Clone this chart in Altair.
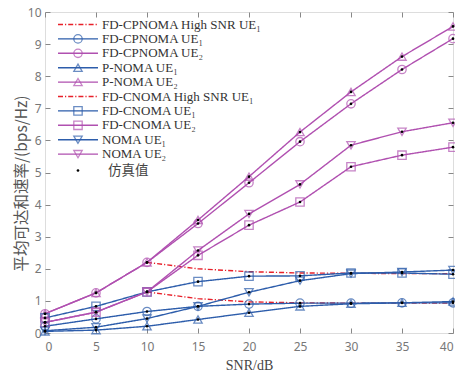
import altair as alt
import pandas as pd

snr = [0, 5, 10, 15, 20, 25, 30, 35, 40]
snr_high = [10, 15, 20, 25, 30, 35, 40]

fdcp_high_ue1 = [1.28, 1.07, 0.97, 0.94, 0.93, 0.93, 0.93]
fdcp_ue1 = [0.21, 0.44, 0.67, 0.83, 0.90, 0.93, 0.93, 0.94, 0.94]
fdcp_ue2 = [0.60, 1.25, 2.20, 3.41, 4.68, 5.96, 7.14, 8.21, 9.17]
pnoma_ue1 = [0.05, 0.09, 0.21, 0.42, 0.63, 0.83, 0.91, 0.94, 0.98]
pnoma_ue2 = [0.60, 1.25, 2.20, 3.52, 4.87, 6.26, 7.51, 8.61, 9.55]
fdc_high_ue1 = [2.20, 2.00, 1.91, 1.87, 1.86, 1.85, 1.85]
fdc_ue1 = [0.47, 0.83, 1.28, 1.60, 1.77, 1.78, 1.87, 1.87, 1.83]
fdc_ue2 = [0.33, 0.65, 1.28, 2.42, 3.36, 4.08, 5.18, 5.54, 5.79]
noma_ue1 = [0.07, 0.18, 0.45, 0.83, 1.27, 1.63, 1.85, 1.90, 1.96]
noma_ue2 = [0.33, 0.65, 1.28, 2.57, 3.71, 4.63, 5.85, 6.27, 6.55]

names = ["FD-CPNOMA High SNR UE₁", "FD-CPNOMA UE₁", "FD-CPNOMA UE₂",
         "P-NOMA UE₁", "P-NOMA UE₂", "FD-CNOMA High SNR UE₁",
         "FD-CNOMA UE₁", "FD-CNOMA UE₂", "NOMA UE₁", "NOMA UE₂"]
sim_label = "仿真值"

BLUE = "#2D5DAB"
MAG = "#B050B0"
RED = "#E8202A"
colors = [RED, BLUE, MAG, BLUE, MAG, RED, BLUE, MAG, BLUE, MAG]
shapes = ["circle", "circle", "circle", "triangle-up", "triangle-up", "circle",
          "square", "square", "triangle-down", "triangle-down"]
dashes = [[5, 2, 1.2, 2], [1, 0], [1, 0], [1, 0], [1, 0], [5, 2, 1.2, 2],
          [1, 0], [1, 0], [1, 0], [1, 0]]
has_marker = [False, True, True, True, True, False, True, True, True, True]

series_vals = [fdcp_high_ue1, fdcp_ue1, fdcp_ue2, pnoma_ue1, pnoma_ue2,
               fdc_high_ue1, fdc_ue1, fdc_ue2, noma_ue1, noma_ue2]

rows = []
for i, (n, vals) in enumerate(zip(names, series_vals)):
    xs = snr_high if len(vals) == len(snr_high) else snr
    for x, y in zip(xs, vals):
        rows.append({"series": n, "snr": x, "rate": y, "marker": has_marker[i]})
df = pd.DataFrame(rows)
mk = df[df["marker"]]

leg_rows = []
for i, n in enumerate(names):
    leg_rows.append({"series": n, "idx": i, "marker": has_marker[i]})
leg = pd.DataFrame(leg_rows)
sim_df = pd.DataFrame([{"label": sim_label, "idx": len(names)}])

color_scale = alt.Scale(domain=names, range=colors)
shape_scale = alt.Scale(domain=names, range=shapes)
dash_scale = alt.Scale(domain=names, range=dashes)

xs_ = alt.Scale(domain=[0, 40], nice=False)
ys_ = alt.Scale(domain=[0, 10], nice=False)

AX_GRAY = "#777777"
common_axis = dict(grid=False, domain=False, tickSize=5, offset=-5,
                   tickColor="#888888", labelColor=AX_GRAY, labelFont="Noto Sans",
                   labelFontSize=12)
frame_axis = {k: v for k, v in common_axis.items()
              if k not in ("labelColor", "labelFont", "labelFontSize")}

lines = alt.Chart(df).mark_line(strokeWidth=1.4).encode(
    x=alt.X("snr:Q", scale=xs_, axis=alt.Axis(values=list(range(0, 41, 5)),
            title="SNR/dB", titleFont="Liberation Serif", titleFontSize=14,
            titleFontWeight="normal", titleColor="#444444", titlePadding=6,
            labelPadding=8, orient="bottom", **common_axis)),
    y=alt.Y("rate:Q", scale=ys_, axis=alt.Axis(values=list(range(0, 11)),
            title="平均可达和速率/(bps/Hz)", titleFont="Noto Sans CJK SC",
            titleFontSize=15.5, titleFontWeight="normal", titleColor="#555555",
            titleAngle=270, titleX=-29, titleY=171, titleAlign="center",
            titleBaseline="middle", labelPadding=4, orient="left", **common_axis)),
    color=alt.Color("series:N", scale=color_scale, legend=None),
    strokeDash=alt.StrokeDash("series:N", scale=dash_scale, legend=None),
    detail="series:N",
)

points = alt.Chart(mk).mark_point(filled=False, size=70, strokeWidth=1.3).encode(
    x=alt.X("snr:Q", scale=xs_, axis=None),
    y=alt.Y("rate:Q", scale=ys_, axis=None),
    color=alt.Color("series:N", scale=color_scale, legend=None),
    shape=alt.Shape("series:N", scale=shape_scale, legend=None),
)

dots = alt.Chart(mk).mark_circle(size=7, color="black", opacity=1).encode(
    x=alt.X("snr:Q", scale=xs_, axis=alt.Axis(orient="top", labels=False, title=None,
            values=list(range(0, 41, 5)), **frame_axis)),
    y=alt.Y("rate:Q", scale=ys_, axis=alt.Axis(orient="right", labels=False, title=None,
            values=list(range(0, 11)), **frame_axis)),
)

ROW0 = 12.5
STEP = 14.4

leg_base = alt.Chart(leg).transform_calculate(ypx=f"{ROW0} + datum.idx * {STEP}")
leg_lines = leg_base.mark_rule(strokeWidth=1.4).encode(
    x=alt.value(13), x2=alt.value(53),
    y=alt.Y("ypx:Q", scale=None),
    color=alt.Color("series:N", scale=color_scale, legend=None),
    strokeDash=alt.StrokeDash("series:N", scale=dash_scale, legend=None),
)
leg_pts = leg_base.transform_filter("datum.marker").mark_point(
    filled=False, size=70, strokeWidth=1.3).encode(
    x=alt.value(33),
    y=alt.Y("ypx:Q", scale=None),
    color=alt.Color("series:N", scale=color_scale, legend=None),
    shape=alt.Shape("series:N", scale=shape_scale, legend=None),
)
leg_text = leg_base.mark_text(align="left", baseline="middle", font="Liberation Serif",
                              fontSize=13, color="#333333").encode(
    x=alt.value(57),
    y=alt.Y("ypx:Q", scale=None),
    text="series:N",
)
sim_base = alt.Chart(sim_df).transform_calculate(ypx=f"{ROW0} + datum.idx * {STEP} + 2")
sim_dot = sim_base.mark_circle(size=7, color="black", opacity=1).encode(
    x=alt.value(33), y=alt.Y("ypx:Q", scale=None))
sim_text = sim_base.mark_text(align="left", baseline="middle", font="Noto Sans CJK SC",
                              fontSize=13.5, color="#444444").encode(
    x=alt.value(63), y=alt.Y("ypx:Q", scale=None), text="label:N")

chart = alt.layer(lines, points, dots, leg_lines, leg_pts, leg_text, sim_dot, sim_text).resolve_axis(
    x="independent", y="independent"
).properties(
    width=408, height=321,
    autosize=alt.AutoSizeParams(type="none"),
    padding={"left": 37, "top": 4, "right": 2, "bottom": 40},
).configure_view(stroke="#888888", strokeWidth=1).configure(background="white")

chart.save("out.html", embed_options={"renderer": "svg", "actions": False})
